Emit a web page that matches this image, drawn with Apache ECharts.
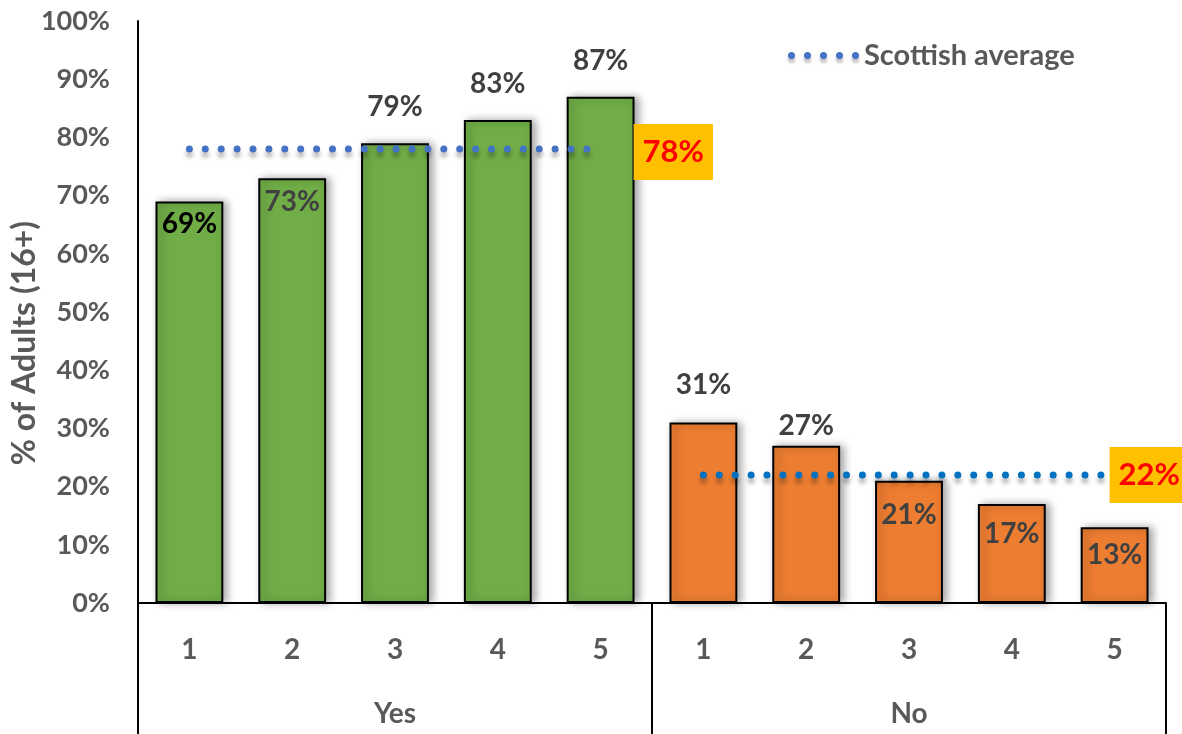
<!DOCTYPE html>
<html>
<head>
<meta charset="utf-8">
<script src="https://cdn.jsdelivr.net/npm/echarts@6/dist/echarts.min.js"></script>
<style>
html,body{margin:0;padding:0;background:#fff;}
#chart{width:1182px;height:734px;}
</style>
</head>
<body>
<div id="chart"></div>
<script>
// ---- data ----
var categories = ['1','2','3','4','5','1','2','3','4','5'];
var groups = ['Yes','No'];
var yesValues = [69, 73, 79, 83, 87];
var noValues = [31, 27, 21, 17, 13];
var yesAverage = 78;
var noAverage = 22;
var yTicks = [0,10,20,30,40,50,60,70,80,90,100];

// ---- label placement config ----
var insideLabel = [true, true, false, false, false, false, false, true, true, true];
var labelDist = [9, 10, 22, 22, 22, 24, 6, 20, 16, 14];
var labelColor = ['#000000','#404040','#404040','#404040','#404040','#404040','#404040','#404040','#404040','#404040'];

var FONT = 'Lato';
var GREY = '#595959';

function barData(vals, offset, total) {
  var out = [];
  for (var i = 0; i < total; i++) {
    var k = i - offset;
    if (k < 0 || k >= vals.length) { out.push(null); continue; }
    out.push({
      value: vals[k],
      label: {
        show: true,
        position: insideLabel[i] ? 'insideTop' : 'top',
        distance: labelDist[i],
        color: labelColor[i]
      }
    });
  }
  return out;
}
function avgData(v, offset, count, total, text, dist, dy) {
  var out = [];
  for (var i = 0; i < total; i++) {
    if (i < offset || i >= offset + count) { out.push(null); continue; }
    if (i === offset + count - 1) {
      out.push({
        value: v,
        label: {
          show: true, position: 'right', distance: dist, offset: [0, dy],
          formatter: text,
          backgroundColor: '#FFC000', color: '#FF0000',
          fontFamily: FONT, fontWeight: 'bold', fontSize: 31,
          lineHeight: 36, padding: [10, 9, 10, 9]
        }
      });
    } else out.push(v);
  }
  return out;
}

var n = categories.length;
var chart = echarts.init(document.getElementById('chart'), null, {renderer: 'canvas'});
var dotted = function (color) {
  return {
    color: color, width: 7, type: [0, 15.9], cap: 'round',
    shadowBlur: 4, shadowOffsetY: 5, shadowColor: 'rgba(0,0,0,0.3)'
  };
};
var barItem = function (color) {
  return {
    color: color, borderColor: '#000', borderWidth: 2,
    shadowBlur: 8, shadowOffsetX: 4, shadowColor: 'rgba(0,0,0,0.35)'
  };
};
var barLabel = {fontFamily: FONT, fontWeight: 'bold', fontSize: 28, formatter: '{c}%'};

// legend icon: five round dots
var dotsIcon = 'path://';
for (var d = 0; d < 5; d++) {
  var cx = 16 * d;
  dotsIcon += 'M' + cx + ',3.5a3.5,3.5 0 1,0 7,0a3.5,3.5 0 1,0 -7,0';
}

chart.setOption({
  animation: false,
  textStyle: {fontFamily: FONT},
  grid: {left: 138, right: 16, top: 21, bottom: 131, containLabel: false, outerBoundsMode: 'none'},
  legend: {
    top: 36, left: 783,
    data: [{name: 'Scottish average', icon: dotsIcon}],
    itemWidth: 71, itemHeight: 7, itemGap: 0,
    itemStyle: {color: '#4472C4', shadowBlur: 3, shadowOffsetY: 4, shadowColor: 'rgba(0,0,0,0.25)'},
    textStyle: {color: GREY, fontFamily: FONT, fontWeight: 'bold', fontSize: 29}
  },
  xAxis: [{
    type: 'category', data: categories, position: 'bottom',
    axisLine: {show: true, lineStyle: {color: '#000', width: 2}},
    axisTick: {show: false},
    axisLabel: {margin: 33, color: GREY, fontFamily: FONT, fontWeight: 'bold', fontSize: 28, interval: 0},
    splitLine: {show: false}
  }, {
    type: 'category', data: groups, position: 'bottom',
    axisLine: {show: false},
    axisTick: {show: true, length: 131, lineStyle: {color: '#000', width: 2}},
    axisLabel: {margin: 97, color: GREY, fontFamily: FONT, fontWeight: 'bold', fontSize: 28},
    splitLine: {show: false}
  }],
  yAxis: {
    type: 'value', min: 0, max: 100, interval: 10,
    axisLine: {show: true, lineStyle: {color: '#000', width: 2}},
    axisTick: {show: false},
    splitLine: {show: false},
    axisLabel: {
      margin: 28, color: GREY, fontFamily: FONT, fontWeight: 'bold', fontSize: 27,
      formatter: function (v) { return yTicks.indexOf(v) >= 0 ? v + '%' : ''; }
    },
    name: '% of Adults (16+)', nameLocation: 'middle', nameGap: 97, nameRotate: 90,
    nameMoveOverlap: false,
    nameTextStyle: {color: GREY, fontFamily: FONT, fontWeight: 'bold', fontSize: 32, padding: [0, 62, 0, 0]}
  },
  series: [{
    name: 'Yes', type: 'bar', stack: 'g', xAxisIndex: 0, barWidth: '66%',
    data: barData(yesValues, 0, n),
    itemStyle: barItem('#70AD47'), label: barLabel, z: 2
  }, {
    name: 'No', type: 'bar', stack: 'g', xAxisIndex: 0, barWidth: '66%',
    data: barData(noValues, 5, n),
    itemStyle: barItem('#ED7D31'), label: barLabel, z: 2
  }, {
    name: 'Scottish average', type: 'line', xAxisIndex: 0,
    data: avgData(yesAverage, 0, 5, n, yesAverage + '%', 33, 3),
    showSymbol: true, symbol: 'circle', symbolSize: 0.01,
    lineStyle: dotted('#4472C4'), itemStyle: {color: '#4472C4'}, z: 5
  }, {
    name: 'Scottish average', type: 'line', xAxisIndex: 0,
    data: avgData(noAverage, 5, 5, n, noAverage + '%', -5, 0),
    showSymbol: true, symbol: 'circle', symbolSize: 0.01,
    lineStyle: dotted('#0070C0'), itemStyle: {color: '#0070C0'}, z: 5
  }]
});
</script>
</body>
</html>
